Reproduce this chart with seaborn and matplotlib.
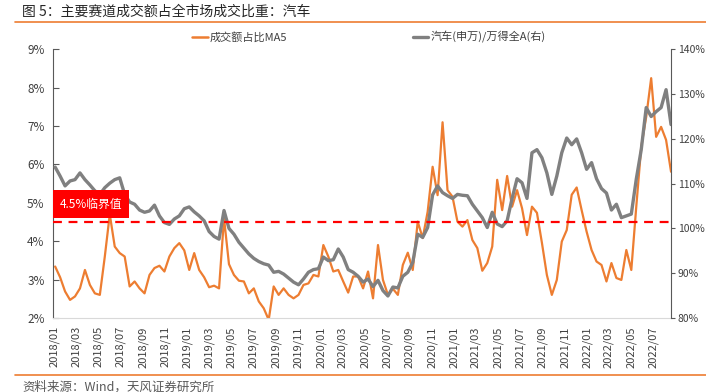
import pandas as pd
import matplotlib.pyplot as plt
import seaborn as sns
from matplotlib.lines import Line2D
from matplotlib.ticker import FuncFormatter

# data (roughly every 11 days)
dates = pd.date_range('2018-01-02', '2022-08-19', periods=125)

share_ma5 = [
    3.34, 3.06, 2.69, 2.47, 2.56, 2.77, 3.25, 2.86, 2.64, 2.60,
    3.60, 4.70, 3.86, 3.69, 3.60, 2.82, 2.95, 2.77, 2.64, 3.12,
    3.30, 3.36, 3.21, 3.60, 3.82, 3.95, 3.76, 3.25, 3.69, 3.25,
    3.06, 2.80, 2.84, 2.77, 4.60, 3.40, 3.12, 2.97, 2.95, 2.64,
    2.77, 2.43, 2.25, 1.95, 2.82, 2.60, 2.77, 2.60, 2.51, 2.60,
    2.86, 2.90, 3.12, 3.08, 3.90, 3.60, 3.21, 3.25, 2.95, 2.66,
    3.08, 3.08, 2.77, 3.21, 2.51, 3.90, 2.99, 2.60, 2.76, 2.60,
    3.38, 3.70, 3.25, 4.51, 4.08, 4.77, 5.94, 5.20, 7.10, 5.33,
    5.16, 4.51, 4.38, 4.55, 4.03, 3.82, 3.23, 3.43, 3.86, 5.60,
    4.81, 5.70, 4.90, 5.33, 4.86, 4.16, 4.90, 4.74, 3.96, 3.12,
    2.60, 2.99, 3.99, 4.29, 5.21, 5.40, 4.81, 4.25, 3.77, 3.47,
    3.38, 2.95, 3.43, 3.04, 2.99, 3.77, 3.25, 4.90, 6.46, 7.24,
    8.25, 6.72, 6.98, 6.64, 5.81,
]

auto_vs_wind_a = [
    113.7, 111.7, 109.5, 110.6, 110.9, 112.4, 110.9, 109.7, 108.4, 107.6,
    109.1, 110.1, 110.9, 111.3, 107.6, 105.9, 105.4, 104.1, 103.6, 103.9,
    105.2, 102.8, 101.3, 100.9, 102.1, 102.8, 104.4, 104.8, 103.7, 102.8,
    101.7, 99.3, 98.2, 97.6, 104.0, 100.0, 98.7, 96.9, 95.6, 94.3,
    93.3, 92.6, 92.1, 91.8, 90.2, 90.4, 89.8, 88.9, 88.0, 87.4,
    88.7, 90.2, 90.8, 91.0, 93.6, 92.8, 93.0, 95.4, 93.6, 90.8,
    90.2, 89.3, 88.0, 88.7, 87.0, 88.4, 86.1, 84.9, 86.9, 86.7,
    89.3, 90.2, 92.4, 98.7, 98.0, 100.2, 107.5, 109.5, 108.0, 107.3,
    106.7, 107.6, 107.4, 107.3, 105.4, 103.9, 102.4, 100.2, 103.6, 101.0,
    100.4, 101.7, 106.7, 111.1, 110.2, 106.7, 116.9, 117.6, 115.8, 112.4,
    107.6, 111.7, 116.9, 120.2, 118.7, 120.0, 116.9, 113.2, 114.7, 111.1,
    108.9, 107.9, 104.1, 105.4, 102.4, 102.8, 103.2, 111.0, 117.6, 127.0,
    125.0, 126.1, 127.0, 131.0, 123.2,
]

threshold = 4.5
tick_dates = pd.date_range('2018-01-01', '2022-07-01', freq='2MS')
tick_labels = [d.strftime('%Y/%m') for d in tick_dates]

sns.set_style('white')
plt.rcParams['font.family'] = ['Noto Sans CJK SC', 'DejaVu Sans']
plt.rcParams['axes.unicode_minus'] = False

df = pd.DataFrame({'date': dates, 'share': share_ma5, 'rel': auto_vs_wind_a})

orange = '#ED7D31'
grey = '#808080'
axis_col = '#595959'
text_col = '#404040'

fig = plt.figure(figsize=(7.06, 3.92), dpi=100)
ax = fig.add_axes([0.075, 0.189, 0.876, 0.685])
ax2 = ax.twinx()

sns.lineplot(data=df, x='date', y='share', ax=ax, color=orange, lw=1.6, legend=False)
sns.lineplot(data=df, x='date', y='rel', ax=ax2, color=grey, lw=2.4, legend=False)

ax.set_xlim(pd.Timestamp('2017-12-27'), pd.Timestamp('2022-08-20'))
ax.set_ylim(2, 9)
ax2.set_ylim(80, 140)
ax.set_yticks(range(2, 10))
ax2.set_yticks(range(80, 141, 10))
ax.yaxis.set_major_formatter(FuncFormatter(lambda v, p: f'{v:.0f}%'))
ax2.yaxis.set_major_formatter(FuncFormatter(lambda v, p: f'{v:.0f}%'))
ax.set_xticks(tick_dates)
ax.set_xticklabels(tick_labels, rotation=90)
ax.set_xlabel('')
ax.set_ylabel('')
ax2.set_ylabel('')

# threshold line, drawn on the twin axis so it sits above the grey line
thr_right = 80 + (threshold - 2) / 7 * 60
ax2.axhline(thr_right, color='red', ls=(0, (4, 3)), lw=1.6, zorder=5)
ax2.text(pd.Timestamp('2018-04-10'), 80 + (4.97 - 2) / 7 * 60, '4.5%临界值',
         color='white', fontsize=8.5, ha='center', va='center', zorder=6,
         bbox=dict(boxstyle='square,pad=0.6', fc='red', ec='none'))

for s in ['top', 'right']:
    ax.spines[s].set_visible(False)
for s in ['top', 'left', 'bottom']:
    ax2.spines[s].set_visible(False)
ax.spines['left'].set_color(axis_col)
ax.spines['bottom'].set_color('#D9D9D9')
ax2.spines['right'].set_color(axis_col)

ax.tick_params(axis='y', direction='in', length=4, color=axis_col, labelsize=8.5,
               labelcolor=text_col, pad=6)
ax2.tick_params(axis='y', direction='out', length=3, color=axis_col, labelsize=7.5,
                labelcolor=text_col, pad=1.5)
ax.tick_params(axis='x', direction='out', length=4, color='#D9D9D9', labelsize=8,
               labelcolor=text_col, pad=2)

handles = [Line2D([], [], color=orange, lw=1.8), Line2D([], [], color=grey, lw=2.4)]
fig.legend(handles, ['成交额占比MA5', '汽车(申万)/万得全A(右)'], loc='center left',
           bbox_to_anchor=(192 / 706, 1 - 37 / 392), ncol=2, frameon=False,
           fontsize=8, handlelength=1.4, handletextpad=0.2, columnspacing=11.3,
           borderpad=0, borderaxespad=0, labelcolor=text_col)

fig.text(22 / 706, 1 - 12 / 392, '图 5：主要赛道成交额占全市场成交比重：汽车',
         fontsize=10, color='#262626', va='center', ha='left', fontweight='medium')
fig.add_artist(Line2D([15 / 706, 1], [1 - 22 / 392, 1 - 22 / 392], color=orange, lw=1.2))
fig.add_artist(Line2D([15 / 706, 1], [1 - 375 / 392, 1 - 375 / 392], color=orange, lw=1.2))
fig.text(22 / 706, 1 - 387 / 392, '资料来源：Wind，天风证券研究所',
         fontsize=9, color='#595959', va='center', ha='left')

fig.savefig('out.png', dpi=100)
